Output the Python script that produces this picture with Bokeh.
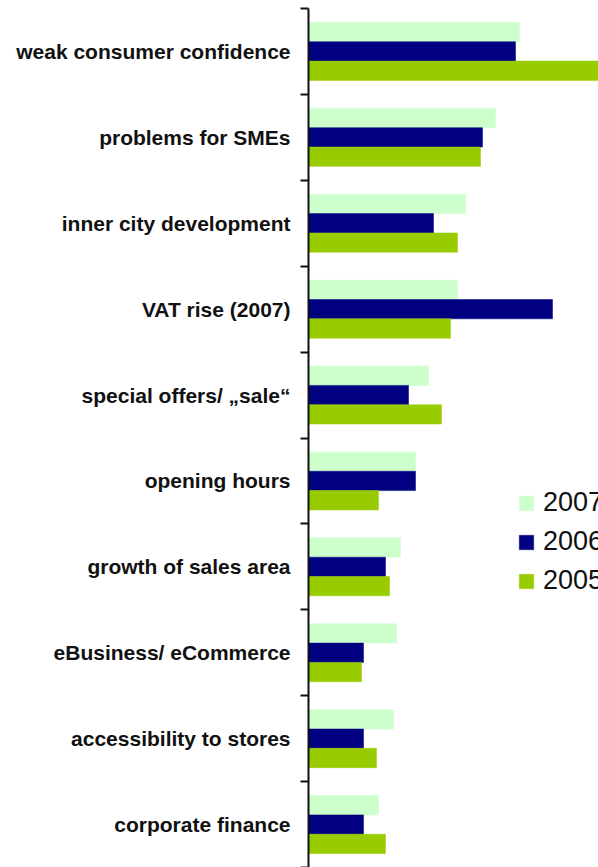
from bokeh.plotting import figure
from bokeh.models import Range1d, FixedTicker, LinearAxis
from bokeh.embed import file_html
from bokeh.resources import INLINE

# ---- data (arbitrary units) ----
categories = [
    "weak consumer confidence",
    "problems for SMEs",
    "inner city development",
    "VAT rise (2007)",
    "special offers/ \u201esale\u201c",
    "opening hours",
    "growth of sales area",
    "eBusiness/ eCommerce",
    "accessibility to stores",
    "corporate finance",
]
series_names = ["2007", "2006", "2005"]
values_2007 = [211, 187, 157, 149, 120, 107, 92, 88, 85, 70]
values_2006 = [207, 174, 125, 244, 100, 107, 77, 55, 55, 55]
values_2005 = [300, 172, 149, 142, 133, 70, 81, 53, 68, 77]
colors = ["#CCFFCC", "#000080", "#99CC00"]

n = len(categories)
centers = [n - i - 0.5 for i in range(n)]
boundaries = [float(k) for k in range(n + 1)]

p = figure(
    width=598, height=867,
    output_backend="svg", toolbar_location=None,
    x_range=Range1d(0, 290), y_range=Range1d(0, n),
    x_axis_location=None, y_axis_location=None,
    min_border_left=308, min_border_right=0,
    min_border_top=8, min_border_bottom=0,
)
p.outline_line_color = None
p.grid.visible = False
p.background_fill_color = "white"
p.border_fill_color = "white"

bar_h = 0.225
offsets = [bar_h, 0.0, -bar_h]
for name, vals, col, off in zip(series_names, [values_2007, values_2006, values_2005], colors, offsets):
    ys = [c + off for c in centers]
    p.hbar(y=ys, right=vals, left=0, height=bar_h, fill_color=col,
           line_color=col, line_width=0.5, legend_label=name)

yaxis = LinearAxis(
    ticker=FixedTicker(ticks=centers, minor_ticks=boundaries),
    major_label_overrides={c: lab for c, lab in zip(centers, categories)},
    major_tick_out=0, major_tick_in=0,
    minor_tick_out=8, minor_tick_in=0,
    minor_tick_line_color="#111111", minor_tick_line_width=2,
    axis_line_color="#111111", axis_line_width=2,
    major_label_standoff=10,
    major_label_text_font="Liberation Sans",
    major_label_text_font_style="bold",
    major_label_text_font_size="21px",
    major_label_text_color="#111111",
)
p.add_layout(yaxis, "left")

lg = p.legend[0]
lg.location = (209, 271)
lg.border_line_color = None
lg.background_fill_alpha = 0
lg.padding = 0
lg.margin = 0
lg.spacing = 8
lg.glyph_width = 18
lg.glyph_height = 18
lg.label_standoff = 8
lg.label_text_font = "Liberation Sans"
lg.label_text_font_size = "27px"
lg.label_text_color = "#111111"

open("out.html", "w").write(file_html(p, INLINE))
